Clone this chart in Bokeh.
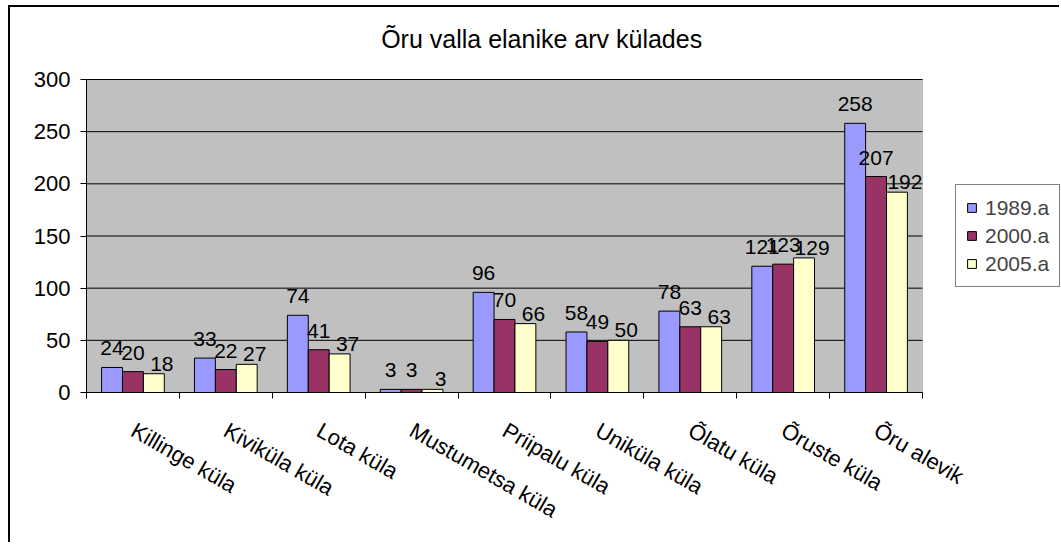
import math
from bokeh.plotting import figure
from bokeh.models import Legend, LegendItem, FixedTicker, BoxAnnotation, Label
from bokeh.embed import file_html
from bokeh.resources import INLINE
from bokeh.core.properties import value

categories = ["Killinge küla", "Kiviküla küla", "Lota küla", "Mustumetsa küla",
              "Priipalu küla", "Uniküla küla", "Õlatu küla", "Õruste küla", "Õru alevik"]
years = ["1989.a", "2000.a", "2005.a"]
v1989 = [24, 33, 74, 3, 96, 58, 78, 121, 258]
v2000 = [20, 22, 41, 3, 70, 49, 63, 123, 207]
v2005 = [18, 27, 37, 3, 66, 50, 63, 129, 192]
series = [v1989, v2000, v2005]
colors = ["#9999FF", "#993366", "#FFFFCC"]
y_ticks = [0, 50, 100, 150, 200, 250, 300]
title_text = "Õru valla elanike arv külades"

FONT = "Liberation Sans"
n = len(categories)
ymax = y_ticks[-1]
bw = 0.225
label_dx = [0, 0, 8]        # per-series label shift (px), as in the original
label_dy = [-12, -12, -3]

# layout (pixels): plot area 836 x 313 inside a 975 x 385 frame
W, H = 1051, 537
ML, MB = 76, 152
frame_w, frame_h = W - ML, H - MB
area_w, area_h = 836, 313
x_end = n * frame_w / area_w
y_end = ymax * frame_h / area_h

p = figure(width=W, height=H, x_range=(0, x_end), y_range=(0, y_end),
           output_backend="svg", toolbar_location=None,
           min_border_left=ML, min_border_right=0,
           min_border_top=0, min_border_bottom=MB)
p.styles = {"border-left": "2px solid black", "border-top": "2px solid black",
            "margin-left": "8px", "margin-top": "5px"}
p.background_fill_color = "white"
p.border_fill_color = "white"
p.outline_line_color = None

# gray plot area
area = BoxAnnotation(left=0, right=n, bottom=0, top=ymax, fill_color="#C0C0C0",
                     fill_alpha=1, line_color="#808080", line_width=1, level="underlay")
p.add_layout(area)

# horizontal grid lines limited to the plot area
gy = y_ticks[1:]
p.segment(x0=[0] * len(gy), x1=[n] * len(gy), y0=gy, y1=gy, line_color="black", line_width=1)

renderers = []
for j, (vals, col) in enumerate(zip(series, colors)):
    xs = [i + 0.5 + (j - 1) * bw for i in range(n)]
    r = p.vbar(x=xs, top=vals, width=bw, fill_color=col, line_color="black", line_width=1)
    renderers.append(r)
    p.text(x=xs, y=vals, text=[str(v) for v in vals], text_align="center",
           text_baseline="bottom", x_offset=label_dx[j], y_offset=label_dy[j],
           text_font=value(FONT), text_font_size="21px", text_color="black")

# x axis
p.xaxis.bounds = (0, n)
p.xaxis.ticker = FixedTicker(ticks=[i + 0.5 for i in range(n)], minor_ticks=list(range(n + 1)))
p.xaxis.major_label_overrides = {i + 0.5: c for i, c in enumerate(categories)}
p.xaxis.major_tick_out = 0
p.xaxis.major_tick_in = 0
p.xaxis.minor_tick_out = 6
p.xaxis.minor_tick_in = 0
p.xaxis.minor_tick_line_color = "black"
p.xaxis.major_label_orientation = -math.pi / 6
p.xaxis.major_label_text_font = FONT
p.xaxis.major_label_text_font_size = "22px"
p.xaxis.major_label_text_color = "black"
p.xaxis.major_label_standoff = 30
p.xaxis.axis_line_color = "black"

# y axis
p.yaxis.bounds = (0, ymax)
p.yaxis.ticker = FixedTicker(ticks=y_ticks)
p.yaxis.major_tick_out = 6
p.yaxis.major_tick_in = 0
p.yaxis.minor_tick_out = 0
p.yaxis.minor_tick_in = 0
p.yaxis.major_tick_line_color = "black"
p.yaxis.axis_line_color = "black"
p.yaxis.major_label_text_font = FONT
p.yaxis.major_label_text_font_size = "22px"
p.yaxis.major_label_text_color = "black"
p.yaxis.major_label_standoff = 10

p.xgrid.grid_line_color = None
p.ygrid.grid_line_color = None

legend = Legend(items=[LegendItem(label=y, renderers=[r]) for y, r in zip(years, renderers)],
                location=(869, 105), border_line_color="black", border_line_width=1,
                background_fill_color="white", background_fill_alpha=1,
                label_text_font=FONT, label_text_font_size="21px",
                glyph_width=11, glyph_height=11, label_height=25,
                padding=10, spacing=3, label_standoff=8, margin=0)
p.add_layout(legend, "center")

title = Label(x=4.9, y=339, text=title_text, text_align="center", text_baseline="middle",
              text_font=FONT, text_font_size="25px", text_color="black")
p.add_layout(title)

open("out.html", "w").write(file_html(p, INLINE))
